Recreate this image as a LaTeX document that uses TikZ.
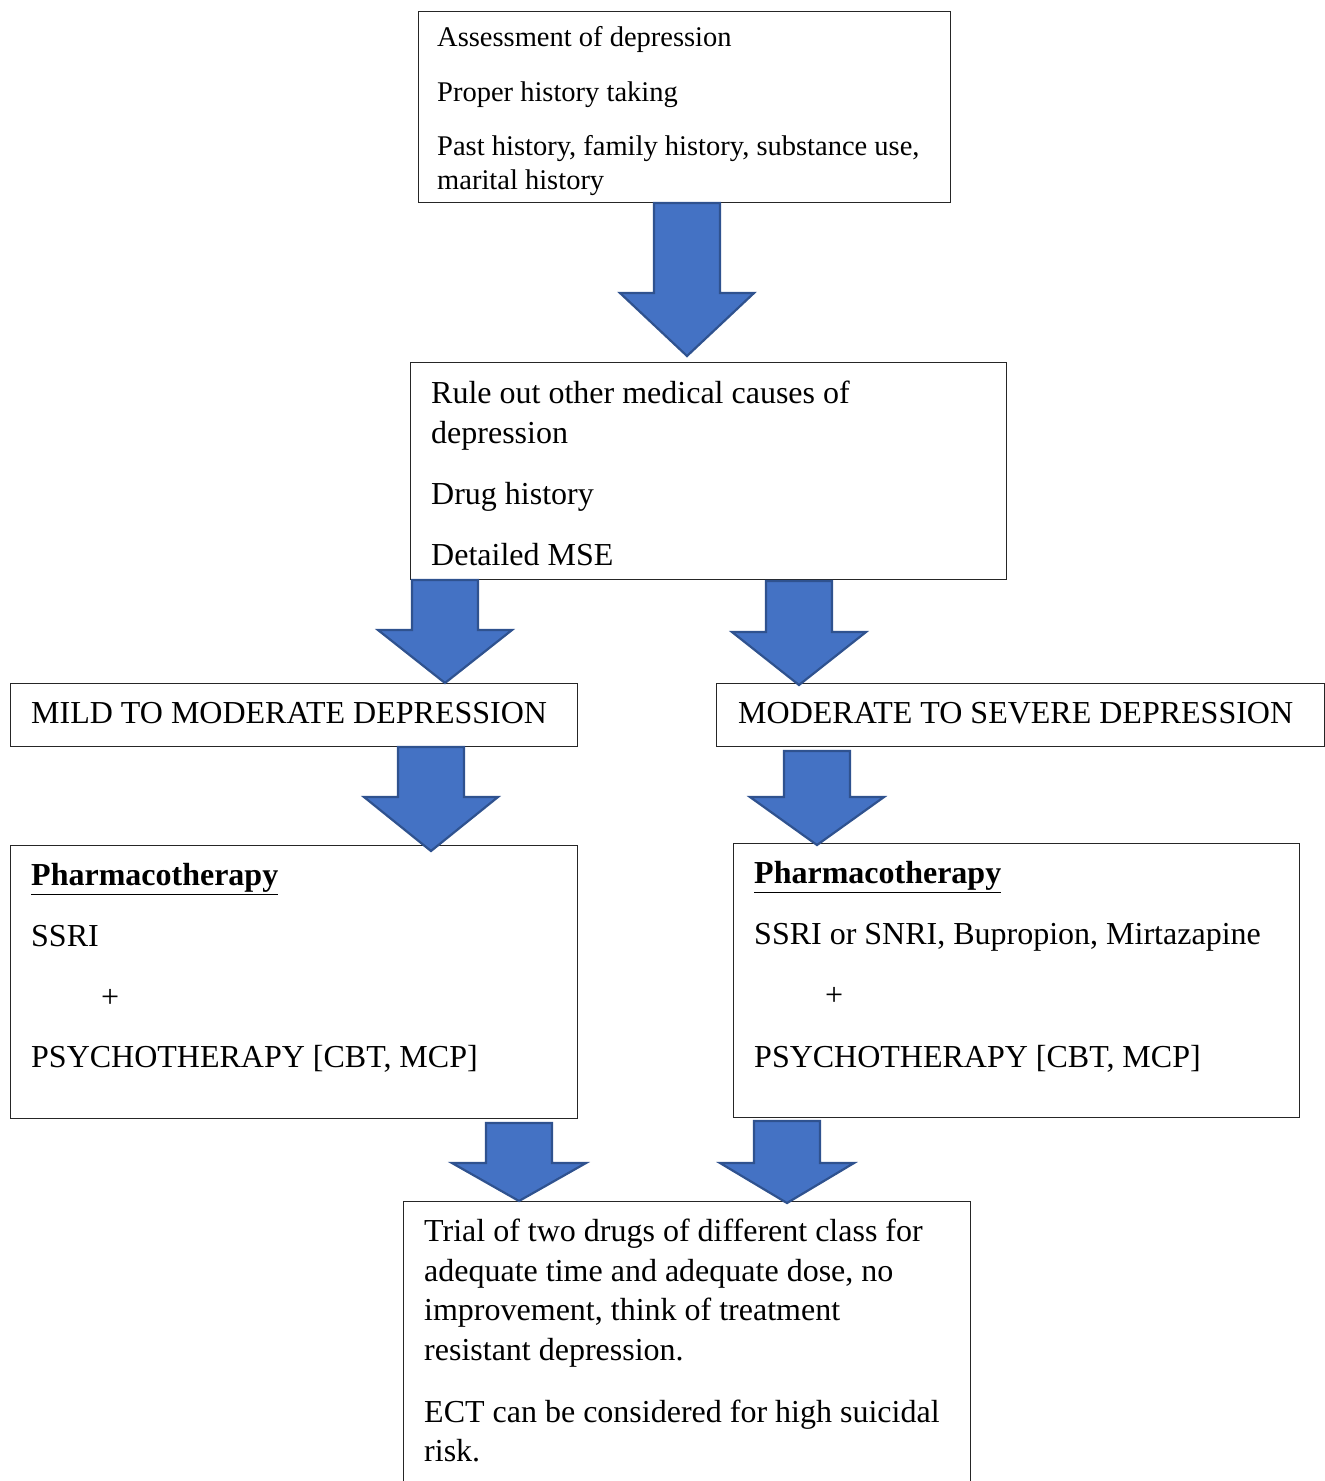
\documentclass[tikz,border=0pt]{standalone}
\usepackage{fontspec}
\setmainfont{Liberation Serif}
\begin{document}
\begin{tikzpicture}[x=1pt,y=-1pt,
  box/.style={draw=black!85,line width=1.2pt,anchor=north west,inner sep=0pt},
  txta/.style={anchor=base west,inner sep=0pt,font=\fontsize{28.5}{34}\selectfont},
  txtb/.style={anchor=base west,inner sep=0pt,font=\fontsize{32}{38}\selectfont},
  barrow/.style={fill=arrowblue,draw=arrowedge,line width=2.2pt,line join=miter}]
\definecolor{arrowblue}{HTML}{4472C4}
\definecolor{arrowedge}{HTML}{2F528F}
\useasboundingbox (0,0) rectangle (1325,1481);
% boxes
\node[box,minimum width=532pt,minimum height=191pt] (b1) at (418,11) {};
\node[box,minimum width=596pt,minimum height=217pt] (b2) at (410,362) {};
\node[box,minimum width=567pt,minimum height=63pt] (b3l) at (10,683) {};
\node[box,minimum width=608pt,minimum height=63pt] (b3r) at (716,683) {};
\node[box,minimum width=567pt,minimum height=273pt] (b4l) at (10,845) {};
\node[box,minimum width=566pt,minimum height=274pt] (b4r) at (733,843) {};
\node[box,minimum width=567pt,minimum height=300pt] (b5) at (403,1201) {};
% texts
\node[txta] (t11) at (437,46.5) {Assessment of depression};
\node[txta] (t12) at (437,101.5) {Proper history taking};
\node[txta] (t13) at (437,155.5) {Past history, family history, substance use,};
\node[txta] (t14) at (437,189.5) {marital history};
\node[txtb] (t21) at (431,403.5) {Rule out other medical causes of};
\node[txtb] (t22) at (431,443.5) {depression};
\node[txtb] (t23) at (431,504.5) {Drug history};
\node[txtb] (t24) at (431,565.5) {Detailed MSE};
\node[txtb] (t3l) at (31,723.5) {MILD TO MODERATE DEPRESSION};
\node[txtb] (t3r) at (738,723.5) {MODERATE TO SEVERE DEPRESSION};
\node[txtb] (t41) at (31,885.5) {\textbf{\underline{Pharmacotherapy}}};
\node[txtb] (t42) at (31,946.5) {SSRI};
\node[txtb] (t43) at (101,1007.5) {+};
\node[txtb] (t44) at (31,1067.5) {PSYCHOTHERAPY [CBT, MCP]};
\node[txtb] (r41) at (754,883.5) {\textbf{\underline{Pharmacotherapy}}};
\node[txtb] (r42) at (754,944.5) {SSRI or SNRI, Bupropion, Mirtazapine};
\node[txtb] (r43) at (825,1005.5) {+};
\node[txtb] (r44) at (754,1067.5) {PSYCHOTHERAPY [CBT, MCP]};
\node[txtb] (t51) at (424,1241.5) {Trial of two drugs of different class for};
\node[txtb] (t52) at (424,1281.5) {adequate time and adequate dose, no};
\node[txtb] (t53) at (424,1320.5) {improvement, think of treatment};
\node[txtb] (t54) at (424,1360.5) {resistant depression.};
\node[txtb] (t55) at (424,1422.5) {ECT can be considered for high suicidal};
\node[txtb] (t56) at (424,1461.5) {risk.};
% block arrows: centre x, top y, neck y, tip y
\newcommand{\blockarrow}[4]{%
  \draw[barrow] (#1-33,#2) -- (#1+33,#2) -- (#1+33,#3) -- (#1+67,#3) -- (#1,#4)
    -- (#1-67,#3) -- (#1-33,#3) -- cycle;}
\blockarrow{687}{203}{293}{356}
\blockarrow{445}{580}{630}{683}
\blockarrow{799}{581}{632}{685}
\blockarrow{431}{747}{797}{851}
\blockarrow{817}{751}{797}{845}
\blockarrow{519}{1123}{1163}{1201}
\blockarrow{787}{1121}{1163}{1203}
\end{tikzpicture}
\end{document}
